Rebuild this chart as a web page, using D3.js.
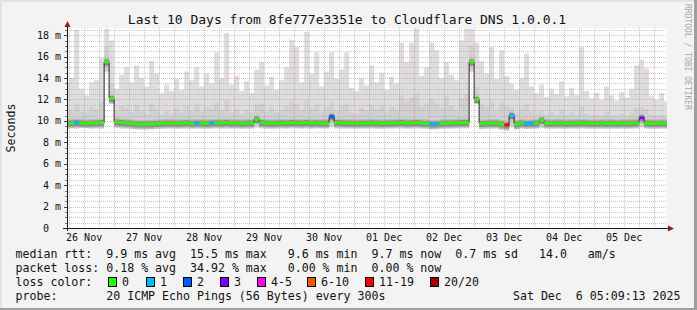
<!DOCTYPE html>
<html><head><meta charset="utf-8">
<script src="https://cdn.jsdelivr.net/npm/d3@7/dist/d3.min.js"></script>
<style>
html,body{margin:0;padding:0;background:#f3f3f3;overflow:hidden}
svg{display:block}
text{font-family:"DejaVu Sans Mono","Liberation Mono",monospace;white-space:pre}
</style></head><body>
<svg id="chart" width="697" height="310"></svg>
<script>
// ---------- data ----------
const chartTitle = "Last 10 Days from 8fe777e3351e to Cloudflare DNS 1.0.0.1";
const yAxisTitle = "Seconds";
const watermark = "RRDTOOL / TOBI OETIKER";
const yTickValues = [0, 2, 4, 6, 8, 10, 12, 14, 16, 18];
const yTickLabels = ["0  ", "2 m", "4 m", "6 m", "8 m", "10 m", "12 m", "14 m", "16 m", "18 m"];
const dayLabels = ["26 Nov", "27 Nov", "28 Nov", "29 Nov", "30 Nov", "01 Dec", "02 Dec", "03 Dec", "04 Dec", "05 Dec"];

// 2-hour steps starting 26 Nov 04:00 UTC (values in ms)
const smokeMax = [
  13.6,14.0,18.5,13.0,12.4,13.6,13.8,15.9,18.6,17.5,
  13.0,14.3,15.0,13.6,15.2,14.0,13.2,15.6,14.4,12.6,13.4,12.8,
  13.9,12.9,14.6,13.8,15.0,13.2,14.4,13.5,16.4,14.0,18.2,13.4,
  14.2,12.8,13.7,12.6,14.8,15.5,13.3,14.1,12.9,13.8,15.0,17.6,
  16.9,13.6,18.3,14.4,16.4,13.2,14.6,16.4,13.9,14.8,16.4,13.1,
  12.8,14.0,13.3,15.2,13.6,14.5,12.9,14.1,13.5,17.3,15.5,17.3,
  18.6,14.2,15.0,17.3,16.6,14.0,15.5,14.3,13.8,17.5,18.6,18.6,
  17.3,15.6,14.4,16.9,13.9,16.6,14.2,13.5,12.9,14.0,16.3,13.2,
  12.6,13.4,12.2,13.0,12.5,13.7,12.3,13.1,12.4,16.9,12.8,12.1,
  12.6,12.0,13.2,12.4,11.9,12.7,12.2,13.0,15.2,15.7,14.9,12.3,
  12.0,12.6,11.8
];
const smokeHi = [
  11.2,11.0,11.6,10.9,10.8,11.3,11.1,11.8,17.0,13.5,
  10.9,11.4,11.2,10.8,11.5,11.0,10.7,11.6,11.1,10.6,10.9,10.7,
  11.2,10.8,11.4,11.0,11.6,10.9,11.3,11.1,11.7,11.0,11.9,10.8,
  11.1,10.7,11.0,10.8,11.5,11.6,10.9,11.2,10.8,11.0,11.4,11.8,
  11.6,11.0,11.9,11.2,11.5,10.9,11.3,11.7,11.0,11.4,11.6,10.8,
  10.7,11.2,11.0,11.5,11.1,11.4,10.8,11.3,11.0,12.4,11.8,12.2,
  12.6,11.3,11.6,12.0,11.7,11.2,12.3,11.4,11.0,12.1,12.5,17.0,
  13.2,11.6,11.3,11.8,11.0,11.7,11.4,11.2,10.8,11.1,11.6,10.9,
  10.7,10.9,10.6,10.8,10.6,11.0,10.6,10.8,10.6,11.4,10.7,10.5,
  10.6,10.5,10.8,10.6,10.5,10.7,10.5,10.8,11.2,11.3,11.1,10.6,
  10.5,10.6,10.5
];
const smokeMin = [
  9.30,9.32,9.30,9.35,9.33,9.30,9.32,9.30,14.6,11.6,
  9.35,9.30,9.28,9.25,9.22,9.20,9.20,9.22,9.25,9.28,9.30,9.30,
  9.28,9.30,9.30,9.28,9.30,9.30,9.28,9.30,9.32,9.30,9.30,9.30,
  9.30,9.28,9.30,9.30,9.40,9.32,9.30,9.28,9.30,9.32,9.30,9.32,
  9.32,9.30,9.32,9.30,9.32,9.30,9.30,9.45,9.32,9.30,9.30,9.30,
  9.28,9.30,9.30,9.32,9.30,9.28,9.30,9.30,9.32,9.32,9.30,9.30,
  9.32,9.30,9.28,9.22,9.22,9.28,9.30,9.30,9.32,9.32,9.32,14.6,
  11.6,9.25,9.28,9.30,9.30,9.18,9.12,9.40,9.22,9.30,9.25,9.28,
  9.30,9.35,9.30,9.28,9.30,9.30,9.28,9.30,9.30,9.32,9.30,9.28,
  9.28,9.30,9.28,9.30,9.28,9.30,9.28,9.30,9.32,9.40,9.30,9.28,
  9.28,9.30,9.28
];
const median = [
  9.80,9.80,9.85,9.80,9.78,9.80,9.82,9.85,15.5,12.1,
  9.90,9.85,9.80,9.78,9.72,9.70,9.70,9.72,9.75,9.78,9.80,9.80,
  9.78,9.80,9.82,9.78,9.80,9.80,9.78,9.80,9.82,9.80,9.85,9.80,
  9.80,9.78,9.80,9.80,10.15,9.85,9.80,9.78,9.80,9.82,9.80,9.85,
  9.82,9.80,9.85,9.80,9.82,9.80,9.80,10.40,9.85,9.82,9.80,9.80,
  9.78,9.80,9.80,9.82,9.80,9.78,9.80,9.80,9.82,9.85,9.80,9.82,
  9.85,9.80,9.78,9.72,9.72,9.78,9.80,9.80,9.82,9.85,9.85,15.5,
  12.0,9.75,9.78,9.80,9.80,9.70,9.62,10.50,9.72,9.80,9.75,9.78,
  9.80,10.05,9.80,9.78,9.80,9.80,9.78,9.80,9.80,9.82,9.80,9.78,
  9.78,9.80,9.78,9.80,9.78,9.80,9.78,9.80,9.82,10.30,9.80,9.78,
  9.78,9.80,9.78
];
const lossLevel = [
  0,0,1,0,0,0,0,0,0,0,
  0,0,0,0,0,0,0,0,0,0,0,0,
  0,0,0,0,1,0,0,1,0,0,0,0,
  0,0,0,0,0,0,0,0,0,0,0,0,
  0,0,0,0,0,0,0,2,0,0,0,0,
  0,0,0,0,0,0,0,0,0,0,0,0,
  0,0,0,1,1,0,0,0,0,0,0,0,
  0,0,0,0,0,0,6,1,0,0,1,1,
  0,0,0,0,0,0,0,0,0,0,0,0,
  0,0,0,0,0,0,0,0,0,3,0,0,
  0,0,0
];
const lossLabels = ["0", "1", "2", "3", "4-5", "6-10", "11-19", "20/20"];
const lossColors = ["#26ff00", "#00b8ff", "#0059ff", "#7e00ff", "#ff00ff", "#ff5500", "#ff0000", "#a10000"];
const legendRtt  = "median rtt:  9.9 ms avg  15.5 ms max   9.6 ms min  9.7 ms now  0.7 ms sd   14.0   am/s";
const legendLoss = "packet loss: 0.18 % avg  34.92 % max   0.00 % min  0.00 % now";
const legendColorLabel = "loss color:";
const legendProbe = "probe:       20 ICMP Echo Pings (56 Bytes) every 300s";
const legendDate = "Sat Dec  6 05:09:13 2025";

// ---------- layout ----------
const W = 697, H = 310;
const L = 67, R = 667, T = 28, B = 228;
const t0 = new Date(Date.UTC(2025, 10, 26, 5, 9, 13));
const t1 = new Date(Date.UTC(2025, 11, 6, 5, 9, 13));
const dataStart = Date.UTC(2025, 10, 26, 4, 0, 0);
const stepMs = 2 * 3600 * 1000;

const svg = d3.select("#chart");
const x = d3.scaleUtc().domain([t0, t1]).range([L, R]);
const y = d3.scaleLinear().domain([0, 18.67]).range([B, T]);

// background and frame
svg.append("rect").attr("width", W).attr("height", H).attr("fill", "#f3f3f3");
svg.append("rect").attr("x", 0).attr("y", 0).attr("width", W).attr("height", 2).attr("fill", "#e2e2e2");
svg.append("rect").attr("x", 0).attr("y", 0).attr("width", 2).attr("height", H).attr("fill", "#e2e2e2");
svg.append("rect").attr("x", 0).attr("y", H - 2).attr("width", W).attr("height", 2).attr("fill", "#9e9e9e");
svg.append("rect").attr("x", W - 3).attr("y", 0).attr("width", 3).attr("height", H).attr("fill", "#9e9e9e");

// plot area
svg.append("rect").attr("x", L).attr("y", T).attr("width", R - L).attr("height", B - T).attr("fill", "#ffffff");
svg.append("clipPath").attr("id", "clip").append("rect")
  .attr("x", L + 1).attr("y", T).attr("width", R - L - 1).attr("height", B - T);

const n = median.length;
const rows = d3.range(n + 1).map(k => {
  const j = Math.min(k, n - 1);
  return { t: new Date(dataStart + k * stepMs), max: smokeMax[j], hi: smokeHi[j], min: smokeMin[j], med: median[j], loss: lossLevel[j] };
});

const g = svg.append("g").attr("clip-path", "url(#clip)");
const step = d3.curveStepAfter;
g.append("path").datum(rows).attr("fill", "#dddddd")
  .attr("d", d3.area().curve(step).x(d => x(d.t)).y0(d => y(d.min)).y1(d => y(d.max)));
g.append("path").datum(rows).attr("fill", "#d0d0d0")
  .attr("d", d3.area().curve(step).x(d => x(d.t)).y0(d => y(d.min)).y1(d => y(d.hi)));
g.append("path").datum(rows).attr("fill", "#bcbcbc")
  .attr("d", d3.area().curve(step).x(d => x(d.t)).y0(d => Math.min(y(d.min), y(d.med) + 5)).y1(d => y(d.med) - 4));
g.append("path").datum(rows).attr("fill", "#8c8c8c")
  .attr("d", d3.area().curve(step).x(d => x(d.t)).y0(d => y(d.med) + 3.5).y1(d => y(d.med) - 2.5));
g.append("path").datum(rows).attr("fill", "none").attr("stroke", "#202020").attr("stroke-width", 1)
  .attr("d", d3.line().curve(step).x(d => x(d.t)).y(d => y(d.med)));
g.selectAll("rect.loss").data(rows.slice(0, n)).join("rect").attr("class", "loss")
  .attr("x", d => x(d.t))
  .attr("width", d => x(new Date(+d.t + stepMs)) - x(d.t) + 0.3)
  .attr("y", d => y(d.med) - 1.5).attr("height", 3)
  .attr("fill", d => lossColors[d.loss]);

// grid
const grid = svg.append("g").attr("stroke-dasharray", "1,1").attr("stroke-width", 1);
const days = d3.utcDay.range(t0, t1);
const sixH = d3.utcHour.every(6).range(t0, t1).filter(d => d.getUTCHours() !== 0);
const minorCol = "rgba(150,150,150,0.5)", majorCol = "rgba(240,100,100,0.45)";
grid.selectAll("line.vmin").data(sixH).join("line")
  .attr("x1", d => Math.round(x(d)) + 0.5).attr("x2", d => Math.round(x(d)) + 0.5)
  .attr("y1", T).attr("y2", B).attr("stroke", minorCol);
const hMinor = d3.range(0.5, 18.67, 0.5).filter(v => v % 2 !== 0);
grid.selectAll("line.hmin").data(hMinor).join("line")
  .attr("x1", L).attr("x2", R).attr("y1", d => Math.round(y(d)) + 0.5).attr("y2", d => Math.round(y(d)) + 0.5)
  .attr("stroke", minorCol);
grid.selectAll("line.vmaj").data(days).join("line")
  .attr("x1", d => Math.round(x(d)) + 0.5).attr("x2", d => Math.round(x(d)) + 0.5)
  .attr("y1", T).attr("y2", B).attr("stroke", majorCol);
grid.selectAll("line.hmaj").data(yTickValues.filter(v => v > 0)).join("line")
  .attr("x1", L).attr("x2", R).attr("y1", d => Math.round(y(d)) + 0.5).attr("y2", d => Math.round(y(d)) + 0.5)
  .attr("stroke", majorCol);

// y ticks (small marks left of axis)
svg.selectAll("line.ytm").data(hMinor).join("line")
  .attr("x1", L - 2).attr("x2", L).attr("y1", d => Math.round(y(d)) + 0.5).attr("y2", d => Math.round(y(d)) + 0.5)
  .attr("stroke", "#777");
svg.selectAll("line.ytM").data(yTickValues).join("line")
  .attr("x1", L - 3).attr("x2", L).attr("y1", d => Math.round(y(d)) + 0.5).attr("y2", d => Math.round(y(d)) + 0.5)
  .attr("stroke", "#444");

// axes
const axisCol = "#1a1a1a", arrowCol = "#9b1c1c";
svg.append("line").attr("x1", L + 0.5).attr("x2", L + 0.5).attr("y1", B + 3).attr("y2", T - 5).attr("stroke", axisCol);
svg.append("line").attr("x1", L - 4).attr("x2", R + 3).attr("y1", B + 0.5).attr("y2", B + 0.5).attr("stroke", axisCol);
svg.append("path").attr("fill", arrowCol).attr("d", `M${L - 2.5},${T - 1}L${L + 3.5},${T - 1}L${L + 0.5},${T - 7}Z`);
svg.append("path").attr("fill", arrowCol).attr("d", `M${R + 1},${B - 2.5}L${R + 1},${B + 3.5}L${R + 7},${B + 0.5}Z`);

// y labels
svg.selectAll("text.yl").data(yTickValues).join("text")
  .attr("x", 61).attr("y", d => y(d) + 3.6).attr("text-anchor", "end")
  .attr("font-size", 10).attr("fill", "#111").text((d, i) => yTickLabels[i]);

// x labels at noon of each day
svg.selectAll("text.xl").data(dayLabels).join("text")
  .attr("x", (d, i) => x(new Date(Date.UTC(2025, 10, 26 + i, 12)))).attr("y", 241)
  .attr("text-anchor", "middle").attr("font-size", 10).attr("fill", "#111").text(d => d);

// title
svg.append("text").attr("x", 347).attr("y", 24).attr("text-anchor", "middle")
  .attr("font-size", 13).attr("fill", "#111").text(chartTitle);

// y axis title
svg.append("text").attr("transform", "translate(15,128) rotate(-90)").attr("text-anchor", "middle")
  .attr("font-size", 11.6).attr("fill", "#111").text(yAxisTitle);

// watermark
svg.append("text").attr("transform", "translate(685,4) rotate(90)")
  .attr("font-size", 8).attr("fill", "#a8a8a8").text(watermark);

// legend
const lx = 15.5, lfs = 11.6;
const leg = svg.append("g").attr("font-size", lfs).attr("fill", "#111");
leg.append("text").attr("x", lx).attr("y", 257.5).text(legendRtt);
leg.append("text").attr("x", lx).attr("y", 271.7).text(legendLoss);
leg.append("text").attr("x", lx).attr("y", 285.9).text(legendColorLabel);
leg.append("text").attr("x", lx).attr("y", 300).text(legendProbe);
leg.append("text").attr("x", 680.5).attr("y", 300).attr("text-anchor", "end").text(legendDate);
const boxX = [108, 146, 183, 220, 257, 307, 365, 430];
lossLabels.forEach((lab, i) => {
  leg.append("rect").attr("x", boxX[i] + 0.5).attr("y", 277.5).attr("width", 8).attr("height", 9)
    .attr("fill", lossColors[i]).attr("stroke", "#000").attr("stroke-width", 1);
  leg.append("text").attr("x", boxX[i] + 14).attr("y", 285.9).text(lab);
});
</script>
</body></html>
